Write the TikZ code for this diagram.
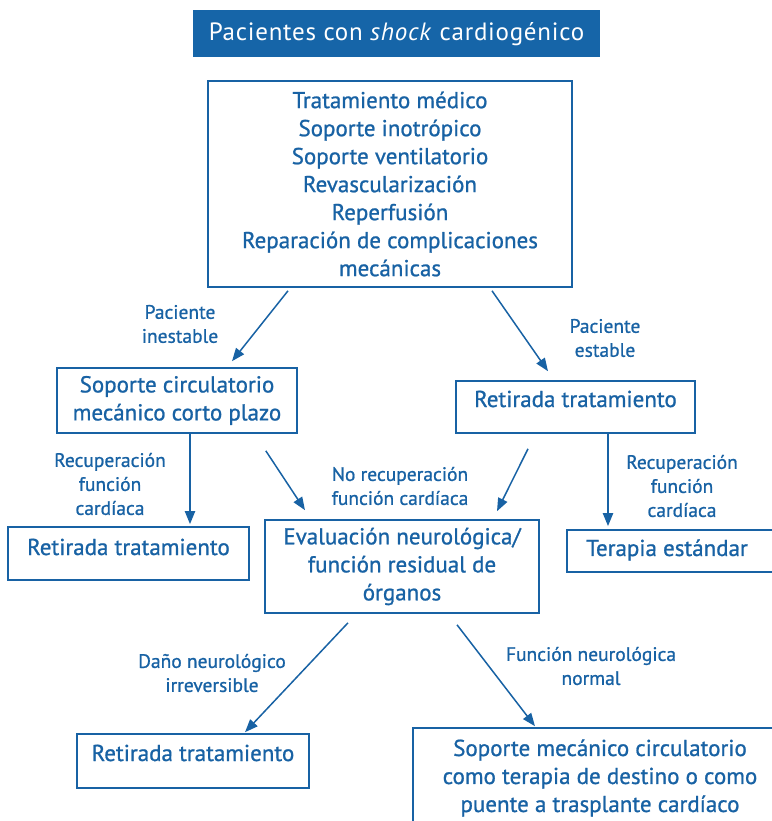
\documentclass[tikz,border=0pt]{standalone}
\usepackage{fontspec}
\setmainfont{PT Sans}[FakeBold=0.9]
\newfontfamily\titlefont{PT Sans}[LetterSpace=3]
\usetikzlibrary{arrows.meta}
\definecolor{mblue}{RGB}{24,98,164}
\definecolor{tblue}{RGB}{22,101,168}
\tikzset{
  box/.style={draw=mblue, line width=1.6pt, fill=white, inner sep=0pt, align=center,
    text=mblue, font=\fontsize{23}{28}\selectfont},
  lbl/.style={text=mblue, align=center, font=\fontsize{19.5}{24}\selectfont, inner sep=0pt},
  inlbl/.style={text=mblue, align=center, font=\fontsize{23}{28}\selectfont, inner sep=0pt},
  arr/.style={draw=mblue, line width=1.5pt, -{Triangle[length=13pt,width=10pt]}},
  varr/.style={arr, line width=2pt}
}
\begin{document}
\begin{tikzpicture}[x=1pt,y=-1pt]
\useasboundingbox (0,0) rectangle (771,821);
% title
\node[fill=tblue, minimum width=407pt, minimum height=47pt, inner sep=0pt,
  text=white, font=\titlefont\fontsize{25}{28}\selectfont] (title) at (396.5,34)
  {Pacientes con \textit{shock} cardiogénico};
% main box
\node[box, minimum width=364pt, minimum height=206pt] (main) at (390,184)
  {Tratamiento médico\\Soporte inotrópico\\Soporte ventilatorio\\Revascularización\\Reperfusión\\Reparación de complicaciones\\mecánicas};
% second row
\node[box, minimum width=240pt, minimum height=65pt] (scm) at (177,400.5)
  {Soporte circulatorio\\mecánico corto plazo};
\node[box, minimum width=239pt, minimum height=52pt,
  label={[inlbl, yshift=8pt]center:Retirada tratamiento}] (retR) at (575.5,407) {};
% third row
\node[box, minimum width=241pt, minimum height=53pt,
  label={[inlbl, yshift=6.5pt]center:Retirada tratamiento}] (retL) at (128.5,553.5) {};
\node[box, minimum width=274pt, minimum height=93pt] (eval) at (402,566.5)
  {Evaluación neurológica/\\función residual de\\órganos};
\node[box, minimum width=208pt, minimum height=42pt,
  label={[inlbl, xshift=-4pt, yshift=1pt]center:Terapia estándar}] (ter) at (671,551) {};
% bottom row
\node[box, minimum width=232pt, minimum height=54pt,
  label={[inlbl, yshift=8pt]center:Retirada tratamiento}] (retB) at (193,761) {};
\node[box, minimum width=362pt, minimum height=104pt,
  label={[inlbl, xshift=6pt, yshift=2pt]center:Soporte mecánico circulatorio\\como terapia de destino o como\\puente a trasplante cardíaco}] (final) at (594,780) {};
% labels
\node[lbl] (l1) at (180,324) {Paciente\\inestable};
\node[lbl] (l2) at (605,338) {Paciente\\estable};
\node[lbl] (l3) at (110,484) {Recuperación\\función\\cardíaca};
\node[lbl] (l4) at (400,486) {No recuperación\\función cardíaca};
\node[lbl] (l5) at (682,486) {Recuperación\\función\\cardíaca};
\node[lbl] (l6) at (212,673) {Daño neurológico\\irreversible};
\node[lbl] (l7) at (591,666) {Función neurológica\\normal};
% arrows
\draw[arr] ([shift={(-102,3)}]main.south) -- ([shift={(55,-6)}]scm.north);
\draw[arr] ([shift={(102,3)}]main.south) -- ([shift={(-27.5,-9)}]retR.north);
\draw[varr] ([shift={(13,0)}]scm.south) -- ([shift={(61.5,-2)}]retL.north);
\draw[arr] ([shift={(-32,17)}]scm.south east) -- ([shift={(-97,-9)}]eval.north);
\draw[arr] ([shift={(-47.5,15)}]retR.south) -- ([shift={(95,-8)}]eval.north);
\draw[varr] ([shift={(32.5,0)}]retR.south) -- ([shift={(-63,-3)}]ter.north);
\draw[arr] ([shift={(-54,9)}]eval.south) -- ([shift={(52,-1)}]retB.north);
\draw[arr] ([shift={(55,11)}]eval.south) -- ([shift={(-59,-1)}]final.north);
\end{tikzpicture}
\end{document}
